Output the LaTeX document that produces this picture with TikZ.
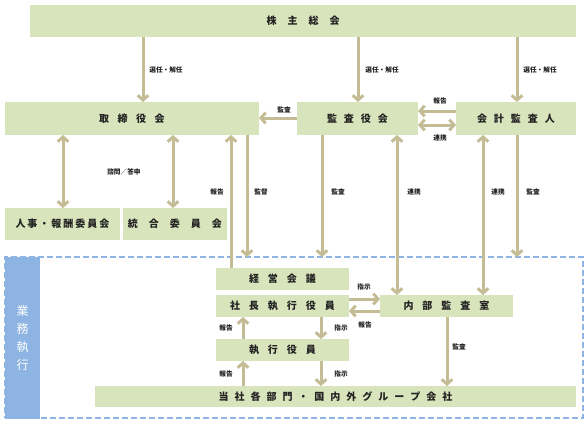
\documentclass[tikz,border=0pt]{standalone}
\usepackage{fontspec}
\setmainfont{Noto Sans CJK JP}
\usetikzlibrary{arrows.meta}
\definecolor{boxgreen}{RGB}{216,228,188}
\definecolor{arrowtan}{RGB}{196,188,148}
\definecolor{frameblue}{RGB}{141,180,226}
\definecolor{textgray}{RGB}{34,34,34}
\newcommand{\jg}[1][.9em]{\hspace{#1}}
\tikzset{
  box/.style={fill=boxgreen, inner sep=0pt, outer sep=0pt, text=textgray, font=\fontsize{7.5}{9}\selectfont\bfseries},
  lbl/.style={inner sep=0pt, text=textgray, font=\fontsize{5}{6}\selectfont\bfseries},
  arr/.style={draw=arrowtan, line width=2.25pt, -{Straight Barb[length=3.5pt,width=8pt]}},
  darr/.style={draw=arrowtan, line width=2.25pt, {Straight Barb[length=3.5pt,width=8pt]}-{Straight Barb[length=3.5pt,width=8pt]}}
}
\begin{document}
\begin{tikzpicture}[x=0.75pt,y=0.75pt,yscale=-1,xscale=1]
\useasboundingbox (0,0) rectangle (587,425);
\node [draw=frameblue, line width=1.5pt, dash pattern=on 4.5pt off 2.25pt, inner sep=0pt, outer sep=0pt, minimum width=433.5pt, minimum height=120.75pt] (gyomu) at (294,337.5) {};
\node [fill=frameblue, inner sep=0pt, outer sep=0pt, minimum width=26.25pt, minimum height=121.5pt, text=white, align=center, font=\fontsize{9}{13.5}\selectfont] (bar) at (22.5,337.5) {業\\務\\執\\行};
\node [box, minimum width=409.5pt, minimum height=24pt] (soukai) at (303,21) {株\jg[1.1em]主\jg[1.1em]総\jg[1.1em]会};
\node [box, minimum width=190.5pt, minimum height=24.75pt] (torishimari) at (132,118.5) {取\jg[.85em]締\jg[.85em]役\jg[.85em]会};
\node [box, minimum width=90.75pt, minimum height=24.75pt] (kansayaku) at (357.5,118.5) {監\jg[.7em]査\jg[.7em]役\jg[.7em]会};
\node [box, minimum width=90pt, minimum height=24.75pt] (kaikei) at (516,118.5) {会\jg[.7em]計\jg[.7em]監\jg[.7em]査\jg[.7em]人};
\node [box, minimum width=86.25pt, minimum height=24pt] (jinji) at (62.5,224) {人\jg[.2em]事\jg[.2em]・\jg[.2em]報\jg[.2em]酬\jg[.2em]委\jg[.2em]員\jg[.2em]会};
\node [box, minimum width=78pt, minimum height=24pt] (togo) at (175,224) {統\jg[1.1em]合\jg[1.1em]委\jg[1.1em]員\jg[1.1em]会};
\node [box, minimum width=99.75pt, minimum height=16.5pt] (keiei) at (282.5,279) {経\jg 営\jg 会\jg 議};
\node [box, minimum width=99.75pt, minimum height=16.5pt] (shacho) at (282.5,306) {社\jg 長\jg 執\jg 行\jg 役\jg 員};
\node [box, minimum width=99.75pt, minimum height=16.5pt] (shikko) at (282.5,350) {執\jg 行\jg 役\jg 員};
\node [box, minimum width=99.75pt, minimum height=16.5pt] (naibu) at (446.5,306) {内\jg 部\jg 監\jg 査\jg 室};
\node [box, minimum width=360.75pt, minimum height=15.75pt] (bumon) at (335.5,396.5) {当\jg[.6em]社\jg[.6em]各\jg[.6em]部\jg[.6em]門\jg[.6em]・\jg[.6em]国\jg[.6em]内\jg[.6em]外\jg[.6em]グ\jg[.6em]ル\jg[.6em]ー\jg[.6em]プ\jg[.6em]会\jg[.6em]社};
\draw [arr] (143,0 |- soukai.south) -- (143,0 |- torishimari.north);
\draw [arr] (358,0 |- soukai.south) -- (358,0 |- kansayaku.north);
\draw [arr] (517,0 |- soukai.south) -- (517,0 |- kaikei.north);
\draw [arr] (kansayaku.west |- 0,118) -- (torishimari.east |- 0,118);
\draw [arr] (kaikei.west |- 0,111) -- (kansayaku.east |- 0,111);
\draw [darr] (kansayaku.east |- 0,125) -- (kaikei.west |- 0,125);
\draw [darr] (63,0 |- torishimari.south) -- (63,0 |- jinji.north);
\draw [darr] (173,0 |- torishimari.south) -- (173,0 |- togo.north);
\draw [arr] (231,0 |- keiei.north) -- (231,0 |- torishimari.south);
\draw [arr] (247,0 |- torishimari.south) -- (247,0 |- gyomu.north);
\draw [arr] (322,0 |- kansayaku.south) -- (322,0 |- gyomu.north);
\draw [darr] (397,0 |- kansayaku.south) -- (397,0 |- naibu.north);
\draw [darr] (483,0 |- kaikei.south) -- (483,0 |- naibu.north);
\draw [arr] (517,0 |- kaikei.south) -- (517,0 |- gyomu.north);
\draw [arr] (shacho.east |- 0,299) -- (naibu.west |- 0,299);
\draw [arr] (naibu.west |- 0,311) -- (shacho.east |- 0,311);
\draw [arr] (321,0 |- shacho.south) -- (321,0 |- shikko.north);
\draw [arr] (243,0 |- shikko.north) -- (243,0 |- shacho.south);
\draw [arr] (321,0 |- shikko.south) -- (321,0 |- bumon.north);
\draw [arr] (243,0 |- bumon.north) -- (243,0 |- shikko.south);
\draw [arr] (447,0 |- naibu.south) -- (447,0 |- bumon.north);
\node [lbl] (sennin1) at (166,70) {選任・解任};
\node [lbl] (sennin2) at (382,70) {選任・解任};
\node [lbl] (sennin3) at (540,70) {選任・解任};
\node [lbl] (kansa1) at (284,110) {監査};
\node [lbl] (hokoku1) at (440,101) {報告};
\node [lbl] (renkei1) at (440,138) {連携};
\node [lbl] (shimon) at (124,172) {諮問／答申};
\node [lbl] (hokoku2) at (217,192) {報告};
\node [lbl] (kantoku) at (261,192) {監督};
\node [lbl] (kansa2) at (338,192) {監査};
\node [lbl] (renkei2) at (414,192) {連携};
\node [lbl] (renkei3) at (498,192) {連携};
\node [lbl] (kansa3) at (533,192) {監査};
\node [lbl] (shiji1) at (364,287) {指示};
\node [lbl] (hokoku3) at (365,325) {報告};
\node [lbl] (shiji2) at (341,328) {指示};
\node [lbl] (hokoku4) at (226,328) {報告};
\node [lbl] (shiji3) at (341,374) {指示};
\node [lbl] (hokoku5) at (226,374) {報告};
\node [lbl] (kansa4) at (459,347) {監査};
\end{tikzpicture}
\end{document}
